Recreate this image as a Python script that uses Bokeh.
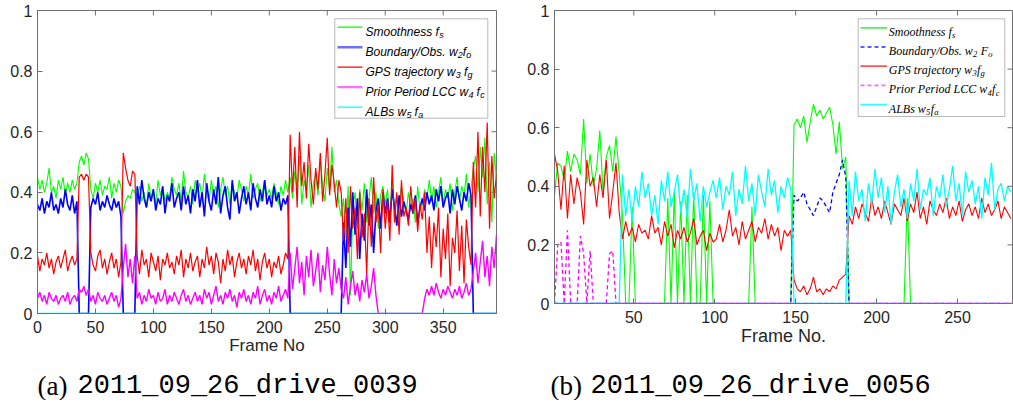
from bokeh.plotting import figure
from bokeh.layouts import row, column
from bokeh.models import Range1d, FixedTicker, Label, BoxAnnotation, Arrow
from bokeh.embed import file_html
from bokeh.resources import INLINE

# ---------------- data (values in hundredths) ----------------
# panel (a): 2011_09_26_drive_0039, frames 0,2,...,396
a_frame_start, a_frame_step = 0, 2
a_smoothness = [
    45, 41, 44, 40, 43, 48, 40, 42, 38, 44,
    41, 45, 39, 43, 40, 44, 41, 43, 50, 52,
    49, 53, 51, 41, 38, 43, 40, 44, 39, 42,
    41, 45, 38, 43, 40, 44, 42, 33, 37, 39,
    38, 41, 40, 39, 42, 37, 40, 35, 43, 38,
    41, 36, 44, 39, 42, 37, 40, 38, 45, 41,
    39, 43, 37, 47, 40, 38, 42, 36, 44, 40,
    43, 38, 46, 40, 37, 44, 39, 42, 35, 41,
    45, 39, 42, 36, 43, 40, 38, 44, 41, 37,
    42, 39, 46, 38, 41, 43, 37, 40, 44, 39,
    41, 38, 43, 40, 36, 42, 39, 44, 40, 45,
    38, 47, 41, 52, 36, 44, 40, 49, 35, 43,
    46, 39, 51, 42, 37, 48, 41, 55, 40, 44,
    36, 32, 38, 25, 42, 6, 35, 40, 28, 41,
    34, 43, 30, 38, 45, 33, 40, 28, 39, 42,
    36, 41, 30, 44, 35, 39, 31, 42, 37, 33,
    40, 35, 38, 30, 42, 34, 36, 41, 38, 44,
    37, 42, 35, 40, 45, 36, 41, 38, 43, 34,
    40, 45, 37, 42, 39, 46, 35, 41, 48, 52,
    40, 55, 45, 58, 36, 50, 30, 53, 44]
a_boundary = [
    36, 34, 38, 33, 37, 35, 40, 34, 36, 33,
    38, 35, 41, 36, 34, 39, 33, 37, 0, 0,
    0, 0, 0, 35, 38, 36, 40, 34, 37, 35,
    39, 36, 34, 38, 35, 37, 32, 0, 0, 0,
    0, 0, 0, 42, 36, 44, 38, 35, 40, 37,
    41, 34, 38, 36, 42, 33, 39, 37, 43, 35,
    38, 40, 34, 42, 36, 39, 33, 41, 37, 44,
    35, 40, 32, 43, 37, 34, 41, 36, 45, 33,
    39, 42, 35, 31, 44, 37, 40, 33, 38, 42,
    36, 40, 34, 43, 38, 35, 41, 37, 44, 36,
    39, 35, 42, 37, 40, 34, 38, 36, 39, 0,
    0, 0, 0, 0, 0, 0, 0, 0, 0, 0,
    0, 0, 0, 0, 0, 0, 0, 0, 0, 0,
    0, 0, 30, 15, 35, 22, 40, 26, 38, 18,
    33, 24, 41, 29, 36, 20, 34, 38, 28, 40,
    33, 38, 30, 41, 35, 29, 39, 32, 37, 34,
    31, 36, 33, 39, 30, 35, 38, 34, 40, 36,
    39, 34, 41, 37, 42, 35, 38, 40, 33, 41,
    36, 42, 38, 34, 40, 37, 43, 39, 0, 0,
    0, 0, 0, 0, 0, 0, 0, 0, 0]
a_gps = [
    19, 14, 18, 16, 20, 15, 18, 13, 17, 19,
    15, 18, 21, 14, 17, 19, 16, 18, 45, 46,
    44, 46, 45, 20, 16, 14, 19, 21, 15, 18,
    13, 17, 20, 15, 18, 12, 17, 53, 48, 44,
    42, 47, 46, 19, 13, 21, 16, 18, 12, 20,
    17, 14, 19, 11, 18, 16, 20, 15, 17, 13,
    19, 16, 21, 12, 18, 15, 20, 14, 17, 19,
    12, 18, 15, 22, 16, 19, 13, 20, 17, 10,
    18, 14, 21, 16, 19, 12, 17, 20, 15, 18,
    13, 19, 16, 21, 14, 18, 11, 17, 20, 15,
    18, 12, 17, 15, 19, 13, 16, 20, 18, 59,
    40, 55, 35, 60, 42, 50, 38, 56, 44, 36,
    48, 41, 53, 37, 46, 58, 39, 49, 43, 35,
    44, 40, 24, 38, 20, 42, 28, 35, 18, 40,
    25, 33, 13, 38, 22, 45, 30, 36, 20, 41,
    28, 37, 24, 49, 30, 40, 26, 44, 32, 35,
    29, 42, 33, 38, 27, 36, 31, 40, 20, 32,
    15, 30, 22, 35, 12, 28, 18, 33, 9, 25,
    20, 34, 14, 29, 10, 31, 22, 16, 50, 35,
    60, 32, 55, 40, 63, 28, 52, 38, 46]
a_prior_lcc = [
    5, 7, 4, 6, 3, 7, 5, 4, 6, 3,
    5, 6, 4, 7, 3, 5, 6, 4, 8, 7,
    9, 6, 8, 4, 6, 3, 7, 5, 4, 6,
    3, 5, 7, 4, 6, 2, 5, 15, 23, 12,
    18, 10, 19, 5, 7, 3, 6, 4, 8, 5,
    6, 3, 7, 4, 5, 8, 3, 6, 4, 7,
    5, 3, 6, 8, 4, 6, 3, 5, 7, 4,
    6, 3, 8, 5, 7, 3, 6, 9, 4, 6,
    3, 7, 5, 8, 4, 6, 2, 7, 5, 8,
    4, 6, 3, 7, 5, 9, 3, 6, 8, 4,
    6, 3, 7, 5, 9, 4, 6, 8, 5, 20,
    8, 15, 22, 10, 17, 6, 19, 12, 21, 9,
    14, 20, 7, 16, 11, 22, 13, 6, 18, 10,
    15, 8, 5, 12, 3, 9, 14, 6, 10, 4,
    11, 7, 13, 5, 9, 15, 6, 0, 0, 0,
    0, 0, 0, 0, 0, 0, 0, 0, 0, 0,
    0, 0, 0, 0, 0, 0, 0, 5, 8, 6,
    9, 6, 10, 7, 5, 8, 6, 9, 7, 5,
    8, 6, 9, 5, 7, 10, 6, 8, 14, 20,
    10, 17, 24, 12, 19, 9, 22, 15, 26]
a_albs_frames = [0, 396]
a_albs = [0, 0]

# panel (b): 2011_09_26_drive_0056, frames 1,3,...,283
b_frame_start, b_frame_step = 1, 2
b_smoothness = [
    37, 48, 47, 42, 52, 45, 51, 49, 44, 63,
    41, 51, 40, 46, 59, 38, 50, 54, 45, 57,
    44, 30, 0, 0, 33, 0, 0, 0, 0, 0,
    0, 0, 0, 0, 0, 36, 0, 38, 0, 35,
    0, 37, 0, 38, 0, 0, 37, 0, 35, 0,
    0, 0, 0, 0, 0, 0, 0, 0, 0, 0,
    0, 33, 0, 0, 0, 0, 0, 0, 0, 0,
    0, 0, 0, 0, 61, 63, 60, 64, 55, 62,
    68, 64, 66, 63, 65, 67, 61, 51, 62, 46,
    50, 0, 0, 0, 0, 0, 0, 0, 0, 0,
    0, 0, 0, 0, 0, 0, 0, 0, 0, 36,
    0, 0, 0, 0, 0, 0, 0, 0, 0, 0,
    0, 0, 0, 0, 0, 0, 0, 0, 0, 0,
    0, 0, 0, 0, 0, 0, 0, 0, 0, 0,
    0, 0]
b_boundary = [
    0, 0, 0, 0, 0, 0, 0, 0, 0, 0,
    0, 0, 0, 0, 0, 0, 0, 0, 0, 0,
    0, 0, 0, 0, 0, 0, 0, 0, 0, 0,
    0, 0, 0, 0, 0, 0, 0, 0, 0, 0,
    0, 0, 0, 0, 0, 0, 0, 0, 0, 0,
    0, 0, 0, 0, 0, 0, 0, 0, 0, 0,
    0, 0, 0, 0, 0, 0, 0, 0, 0, 0,
    0, 0, 0, 0, 37, 35, 36, 38, 34, 32,
    30, 33, 36, 35, 33, 31, 38, 41, 44, 49,
    43, 0, 0, 0, 0, 0, 0, 0, 0, 0,
    0, 0, 0, 0, 0, 0, 0, 0, 0, 0,
    0, 0, 0, 0, 0, 0, 0, 0, 0, 0,
    0, 0, 0, 0, 0, 0, 0, 0, 0, 0,
    0, 0, 0, 0, 0, 0, 0, 0, 0, 0,
    0, 0]
b_gps = [
    51, 45, 32, 47, 29, 44, 34, 43, 38, 27,
    49, 40, 43, 33, 44, 36, 49, 29, 38, 48,
    31, 22, 28, 23, 26, 21, 27, 24, 25, 22,
    30, 24, 26, 20, 28, 23, 27, 19, 25, 22,
    26, 21, 24, 29, 20, 23, 25, 18, 24, 21,
    22, 27, 21, 25, 32, 23, 26, 20, 28, 22,
    25, 28, 21, 26, 24, 29, 22, 27, 23, 26,
    18, 25, 23, 25, 8, 5, 4, 6, 3, 5,
    9, 4, 5, 3, 5, 4, 6, 5, 8, 9,
    10, 30, 27, 33, 29, 34, 31, 28, 36, 30,
    33, 29, 35, 31, 27, 34, 32, 30, 36, 28,
    34, 31, 38, 29, 33, 27, 35, 32, 30, 34,
    31, 36, 29, 33, 30, 35, 28, 32, 34, 30,
    33, 29, 36, 31, 34, 30, 32, 35, 29, 33,
    31, 29]
b_prior_lcc = [
    0, 20, 21, 0, 25, 0, 0, 0, 23, 17,
    0, 18, 0, 0, 0, 0, 0, 17, 18, 0,
    0, 0, 0, 0, 0, 0, 0, 0, 0, 0,
    0, 0, 0, 0, 0, 0, 0, 0, 0, 0,
    0, 0, 0, 0, 0, 0, 0, 0, 0, 0,
    0, 0, 0, 0, 0, 0, 0, 0, 0, 0,
    0, 0, 0, 0, 0, 0, 0, 0, 0, 0,
    0, 0, 0, 0, 0, 0, 0, 0, 0, 0,
    0, 0, 0, 0, 0, 0, 0, 0, 0, 0,
    0, 0, 0, 0, 0, 0, 0, 0, 0, 0,
    0, 0, 0, 0, 0, 0, 0, 0, 0, 0,
    0, 0, 0, 0, 0, 0, 0, 0, 0, 0,
    0, 0, 0, 0, 0, 0, 0, 0, 0, 0,
    0, 0, 0, 0, 0, 0, 0, 0, 0, 0,
    0, 0]
b_albs = [
    0, 0, 0, 0, 0, 0, 0, 0, 0, 0,
    0, 0, 0, 0, 0, 0, 0, 0, 0, 0,
    0, 44, 30, 39, 28, 40, 33, 45, 36, 41,
    30, 37, 27, 42, 35, 45, 33, 38, 44, 31,
    39, 29, 46, 35, 41, 28, 40, 33, 38, 42,
    36, 43, 32, 40, 37, 45, 30, 39, 34, 47,
    35, 41, 30, 44, 38, 33, 46, 37, 42, 31,
    40, 36, 43, 39, 0, 0, 0, 0, 0, 0,
    0, 0, 0, 0, 0, 0, 0, 0, 0, 0,
    0, 42, 30, 45, 35, 39, 28, 41, 34, 46,
    36, 43, 31, 40, 27, 38, 44, 33, 39, 29,
    41, 35, 46, 32, 39, 37, 43, 30, 40, 36,
    44, 33, 39, 47, 35, 41, 30, 45, 38, 42,
    34, 40, 29, 43, 37, 48, 32, 39, 41, 35,
    40, 38]

a_xticks = [0, 50, 100, 150, 200, 250, 300, 350]
b_xticks = [50, 100, 150, 200, 250]
y_ticks = [0, 0.2, 0.4, 0.6, 0.8, 1]

legend_a_rows = [
    [("Smoothness f", 0), ("s", 1)],
    [("Boundary/Obs. w", 0), ("2", 1), ("f", 0), ("o", 1)],
    [("GPS trajectory w", 0), ("3", 1), (" f", 0), ("g", 1)],
    [("Prior Period LCC w", 0), ("4", 1), (" f", 0), ("c", 1)],
    [("ALBs w", 0), ("5", 1), (" f", 0), ("a", 1)],
]
legend_b_rows = [
    [("Smoothness f", 0), ("s", 1)],
    [("Boundary/Obs. w", 0), ("2", 1), (" F", 0), ("o", 1)],
    [("GPS trajectory w", 0), ("3", 1), ("f", 0), ("g", 1)],
    [("Prior Period LCC w", 0), ("4", 1), ("f", 0), ("c", 1)],
    [("ALBs w", 0), ("5", 1), ("f", 0), ("a", 1)],
]
caption_a = ("(a)", "2011_09_26_drive_0039")
caption_b = ("(b)", "2011_09_26_drive_0056")

# ---------------- styles ----------------
GREEN, BLUE, RED, MAG, CYAN = "#00ff00", "#0000ff", "#ff0000", "#ff00ff", "#00ffff"
AXC = "#707070"
TXT = "#262626"
TICK_PX = 5

SANS_W = {" ": 278, "/": 278, ".": 278, "S": 667, "B": 667, "G": 778, "P": 667, "L": 556,
          "C": 722, "A": 667, "O": 778, "F": 611, "m": 833, "o": 556, "t": 278, "h": 556,
          "n": 556, "e": 556, "s": 500, "f": 278, "u": 556, "d": 556, "a": 556, "r": 333,
          "y": 500, "b": 556, "w": 722, "j": 222, "c": 500, "i": 222, "g": 556}
SERIF_W = {" ": 250, "/": 278, ".": 250, "S": 500, "B": 611, "G": 722, "P": 611, "L": 556,
           "C": 667, "A": 611, "O": 722, "F": 611, "m": 722, "o": 500, "t": 278, "h": 500,
           "n": 500, "e": 444, "s": 389, "f": 278, "u": 500, "d": 500, "a": 500, "r": 389,
           "y": 444, "b": 500, "w": 667, "j": 278, "c": 444, "i": 278, "g": 500}


def text_width(s, size, table):
    return sum(table.get(ch, 500) for ch in s) * size / 1000.0


def frames(start, step, n):
    return [start + step * i for i in range(n)]


def hundredths(vals):
    return [v / 100.0 for v in vals]


def make_panel(width, height, bl, br, bt, bb, xr, xticks, xlabel, xlabel_size,
               x_standoff, xlabel_standoff):
    p = figure(width=width, height=height, output_backend="svg", toolbar_location=None,
               x_range=Range1d(*xr), y_range=Range1d(0, 1),
               min_border_left=bl, min_border_right=br, min_border_top=bt, min_border_bottom=bb,
               background_fill_color="white", border_fill_color="white")
    p.xgrid.visible = False
    p.ygrid.visible = False
    p.outline_line_color = AXC
    p.outline_line_width = 1
    xa = p.below[0]
    ya = p.left[0]
    xa.ticker = FixedTicker(ticks=xticks)
    ya.ticker = FixedTicker(ticks=y_ticks)
    ya.major_label_overrides = {0: "0", 1: "1"}
    for ax in (xa, ya):
        ax.axis_line_color = AXC
        ax.major_tick_line_color = AXC
        ax.major_tick_in = TICK_PX
        ax.major_tick_out = 0
        ax.minor_tick_line_color = None
        ax.major_label_text_font = "Liberation Sans"
        ax.major_label_text_font_size = "16px"
        ax.major_label_text_color = TXT
    xa.major_label_standoff = x_standoff
    ya.major_label_standoff = 5
    xa.axis_label = xlabel
    xa.axis_label_text_font = "Liberation Sans"
    xa.axis_label_text_font_size = xlabel_size
    xa.axis_label_text_font_style = "normal"
    xa.axis_label_text_color = TXT
    xa.axis_label_standoff = xlabel_standoff
    return p


def add_box_ticks(p, xticks, xr, frame_w, frame_h):
    # inward ticks on the top and right edges (MATLAB "box on")
    dy = TICK_PX / frame_h
    dx = TICK_PX * (xr[1] - xr[0]) / frame_w
    p.segment(x0=xticks, y0=[1] * len(xticks), x1=xticks, y1=[1 - dy] * len(xticks),
              line_color=AXC, line_width=1)
    p.segment(x0=[xr[1]] * len(y_ticks), y0=y_ticks, x1=[xr[1] - dx] * len(y_ticks), y1=y_ticks,
              line_color=AXC, line_width=1)


def add_legend(p, box, rows, styles, font, size, sub_size, sub_drop, table,
               sample_x, text_x, row_y0, row_dy, cap):
    p.add_layout(BoxAnnotation(left=box[0], right=box[1], bottom=box[2], top=box[3],
                               left_units="screen", right_units="screen",
                               bottom_units="screen", top_units="screen",
                               fill_color="white", fill_alpha=1.0,
                               line_color="#1a1a1a", line_width=1))
    for i, segs in enumerate(rows):
        color, dash, lw = styles[i]
        yc = row_y0 - i * row_dy
        p.add_layout(Arrow(end=None, x_start=sample_x[0], y_start=yc, x_end=sample_x[1], y_end=yc,
                           start_units="screen", end_units="screen",
                           line_color=color, line_width=lw, line_dash=dash))
        x = text_x
        base = yc - cap / 2.0
        for text, sub in segs:
            sz = sub_size if sub else size
            if text.startswith(" "):
                x += text_width(" ", sz, table)
                text = text.lstrip()
            y = base - sub_drop if sub else base
            p.add_layout(Label(x=x, y=y, x_units="screen", y_units="screen", text=text,
                               text_font=font, text_font_size=f"{sz}px", text_font_style="italic",
                               text_color="black", text_baseline="alphabetic", text_align="left"))
            x += text_width(text, sz, table) + 0.3


def add_caption(p, x, y, cap):
    p.add_layout(Label(x=x, y=y, x_units="screen", y_units="screen", text=cap[0],
                       text_font="Liberation Serif", text_font_size="27px", text_color="black",
                       text_baseline="alphabetic", text_align="left"))
    p.add_layout(Label(x=x + 40, y=y, x_units="screen", y_units="screen", text=cap[1],
                       text_font="Liberation Mono", text_font_size="27px", text_color="black",
                       text_baseline="alphabetic", text_align="left"))


# ---------------- panel (a) ----------------
A_XR = (0, 396)
pa = make_panel(500, 360, 37, 4, 10, 47, A_XR, a_xticks, "Frame No", "17px", 7, 0)
pa.line(frames(a_frame_start, a_frame_step, len(a_smoothness)), hundredths(a_smoothness),
        line_color=GREEN, line_width=1.1)
pa.line(frames(a_frame_start, a_frame_step, len(a_boundary)), hundredths(a_boundary),
        line_color=BLUE, line_width=1.6)
pa.line(frames(a_frame_start, a_frame_step, len(a_gps)), hundredths(a_gps),
        line_color=RED, line_width=1.2)
pa.line(frames(a_frame_start, a_frame_step, len(a_prior_lcc)), hundredths(a_prior_lcc),
        line_color=MAG, line_width=1.4)
pa.line(a_albs_frames, a_albs, line_color=CYAN, line_width=1.6)
add_box_ticks(pa, a_xticks, A_XR, 459, 303)

add_legend(pa, (297.3, 450.3, 195.3, 294.7), legend_a_rows,
           [(GREEN, "solid", 1.2), ("#6f6fff", "solid", 2.4), (RED, "solid", 1.2),
            ("#ff6fff", "solid", 2.2), (CYAN, "solid", 1.2)],
           "Liberation Sans", 12, 9, 3.5, SANS_W, (300, 325), 328, 286.3, 20, 8.6)

# ---------------- panel (b) ----------------
B_XR = (1, 284)
pb = make_panel(513, 350, 54, 1, 10, 47, B_XR, b_xticks, "Frame No.", "18px", 7, 0)
pb.line(frames(b_frame_start, b_frame_step, len(b_smoothness)), hundredths(b_smoothness),
        line_color=GREEN, line_width=1.1)
pb.line(frames(b_frame_start, b_frame_step, len(b_boundary)), hundredths(b_boundary),
        line_color=BLUE, line_width=1.3, line_dash="4 3")
pb.line(frames(b_frame_start, b_frame_step, len(b_gps)), hundredths(b_gps),
        line_color=RED, line_width=1.1)
pb.line(frames(b_frame_start, b_frame_step, len(b_prior_lcc)), hundredths(b_prior_lcc),
        line_color=MAG, line_width=1.3, line_dash="4 3")
pb.line(frames(b_frame_start, b_frame_step, len(b_albs)), hundredths(b_albs),
        line_color=CYAN, line_width=1.3)
add_box_ticks(pb, b_xticks, B_XR, 458, 293)

add_legend(pb, (303.7, 450.3, 187, 284.7), legend_b_rows,
           [("#55ee55", "solid", 1.8), ("#6060ff", "4 3", 1.8), ("#ff5555", "solid", 1.8),
            ("#ff66ff", "4 3", 1.8), ("#33ffff", "solid", 1.8)],
           "Liberation Serif", 12, 8.5, 3.2, SERIF_W, (306, 332.7), 334.3, 275.7, 19.2, 7.9)

# ---------------- captions ----------------
pc = figure(width=1013, height=40, output_backend="svg", toolbar_location=None,
            x_axis_location=None, y_axis_location=None,
            x_range=Range1d(0, 1), y_range=Range1d(0, 1),
            min_border_left=0, min_border_right=0, min_border_top=0, min_border_bottom=0,
            outline_line_color=None, background_fill_color="white", border_fill_color="white")
pc.grid.visible = False
add_caption(pc, 37, 15, caption_a)
add_caption(pc, 550, 15, caption_b)

layout = column(row(pa, pb), pc)
open("out.html", "w").write(file_html(layout, INLINE))
